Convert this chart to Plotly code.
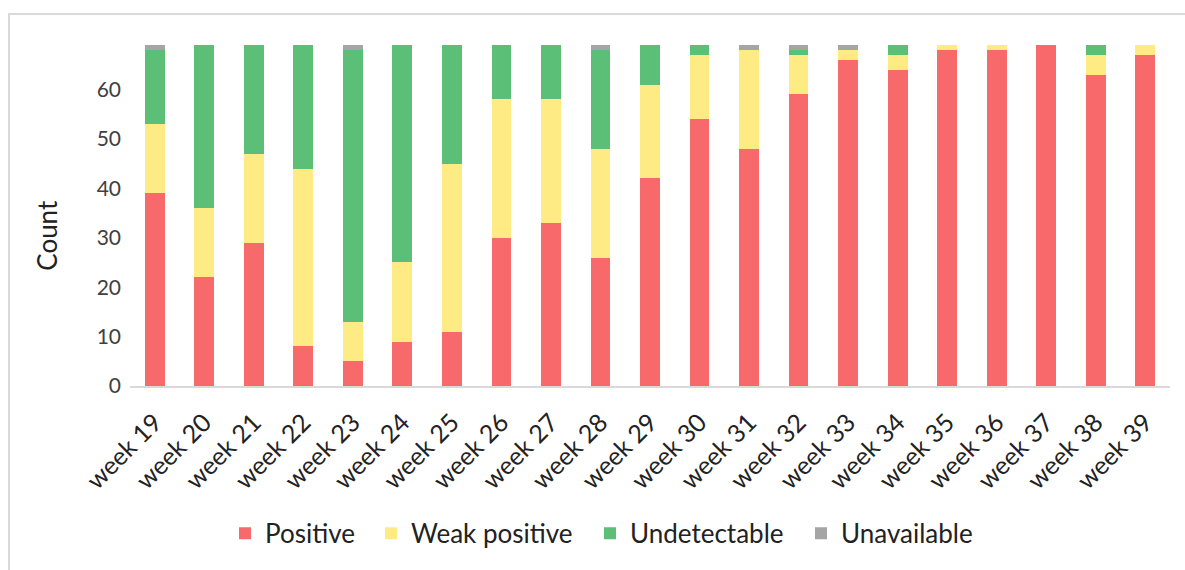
import plotly.graph_objects as go

weeks = [f"week {i}" for i in range(19, 40)]
positive =      [39, 22, 29, 8, 5, 9, 11, 30, 33, 26, 42, 54, 48, 59, 66, 64, 68, 68, 69, 63, 67]
weak_positive = [14, 14, 18, 36, 8, 16, 34, 28, 25, 22, 19, 13, 20, 8, 2, 3, 1, 1, 0, 4, 2]
undetectable =  [15, 33, 22, 25, 55, 44, 24, 11, 11, 20, 8, 2, 0, 1, 0, 2, 0, 0, 0, 2, 0]
unavailable =   [1, 0, 0, 0, 1, 0, 0, 0, 0, 1, 0, 0, 1, 1, 1, 0, 0, 0, 0, 0, 0]

series = [
    ("Positive", positive, "#F8696B"),
    ("Weak positive", weak_positive, "#FFEB84"),
    ("Undetectable", undetectable, "#5BBF77"),
    ("Unavailable", unavailable, "#A5A5A5"),
]

FONT = "Lato"
L, R, T, B = 130, 15, 45, 183.5
W, H = 1185, 570
pw, ph = W - L - R, H - T - B

# legend text start positions (px) for each series
legend_text_x = [267, 413, 632, 843]
legend_y_px = 534

fig = go.Figure()
legends = {}
for i, (name, vals, col) in enumerate(series):
    lg = "legend" if i == 0 else f"legend{i+1}"
    fig.add_trace(go.Bar(x=weeks, y=vals, name=name, marker_color=col,
                         marker_line_width=0, legend=lg))
    legends[lg] = dict(orientation="h", x=(legend_text_x[i] - 42 - L) / pw,
                       xanchor="left", y=(H - B - legend_y_px) / ph,
                       yanchor="middle", bgcolor="rgba(0,0,0,0)",
                       font=dict(family=FONT, size=26, color="#222"))

fig.update_layout(
    barmode="stack",
    bargap=0.6,
    width=W, height=H,
    margin=dict(l=L, r=R, t=T, b=B),
    plot_bgcolor="white", paper_bgcolor="white",
    font=dict(family=FONT, size=23, color="#404040"),
    showlegend=True,
    xaxis=dict(tickangle=-45, showline=True, linecolor="#d9d9d9", linewidth=2,
               ticks="", ticklabelstandoff=10,
               tickfont=dict(family=FONT, size=25, color="#222"),
               showgrid=False),
    yaxis=dict(range=[0, 69], tickvals=[0, 10, 20, 30, 40, 50, 60],
               showgrid=False, zeroline=False, showline=False, ticks="",
               ticklabelstandoff=8,
               tickfont=dict(family=FONT, size=21, color="#404040")),
    annotations=[dict(text="Count", xref="paper", yref="paper",
                      x=(47 - L) / pw, y=(H - B - 236) / ph,
                      xanchor="center", yanchor="middle", textangle=-90,
                      showarrow=False,
                      font=dict(family=FONT, size=26, color="#222"))],
    shapes=[dict(type="rect", xref="paper", yref="paper",
                 x0=(9 - L) / pw, x1=(W + 10 - L) / pw,
                 y0=(H - B - (H + 10)) / ph, y1=(H - B - 14) / ph,
                 line=dict(color="#d9d9d9", width=2), layer="below")],
    **legends,
)

fig.write_html("out.html", config={"displayModeBar": False},
               post_script="document.body.style.margin='0';document.body.style.overflow='hidden';")
